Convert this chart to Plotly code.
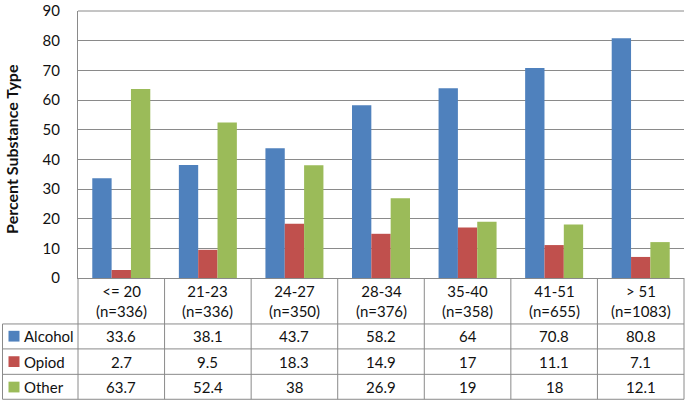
import plotly.graph_objects as go

# ---- data ----
age_groups = ["<= 20", "21-23", "24-27", "28-34", "35-40", "41-51", "> 51"]
group_n = [336, 336, 350, 376, 358, 655, 1083]
alcohol = [33.6, 38.1, 43.7, 58.2, 64, 70.8, 80.8]
opiod = [2.7, 9.5, 18.3, 14.9, 17, 11.1, 7.1]
other = [63.7, 52.4, 38, 26.9, 19, 18, 12.1]
series_names = ["Alcohol", "Opiod", "Other"]
y_max = 90
y_step = 10

# ---- style / layout ----
W, H = 685, 404
L, R, T, B = 78, 684, 5, 278
COLORS = ["#4F81BD", "#C0504D", "#9BBB59"]
GRID = "#8A8A8A"
FONT = "Lato"
TXT = "#111111"


def px_x(px):
    return (px - L) / (R - L)


def px_y(py):
    return (B - py) / (B - T)


series = [alcohol, opiod, other]
fig = go.Figure()
for name, vals, col in zip(series_names, series, COLORS):
    fig.add_trace(go.Bar(x=age_groups, y=vals, name=name,
                         marker=dict(color=col, line=dict(width=0))))

ncat = len(age_groups)
col_w = (R - L) / ncat

shapes = []
line = dict(color=GRID, width=1)
# top gridline at the range maximum (plotly drops grid lines on the plot edge)
shapes.append(dict(type="line", xref="paper", yref="paper", x0=0, x1=1,
                   y0=1, y1=1, line=line))
# table horizontal lines
row_lines = [325, 350.5, 376.5, 402]
for ry in row_lines:
    shapes.append(dict(type="line", xref="paper", yref="paper",
                       x0=px_x(2.5), x1=px_x(R), y0=px_y(ry), y1=px_y(ry), line=line))
# vertical lines of the table
for i in range(ncat + 1):
    xx = L + i * col_w
    shapes.append(dict(type="line", xref="paper", yref="paper",
                       x0=px_x(xx), x1=px_x(xx), y0=px_y(B), y1=px_y(402), line=line))
shapes.append(dict(type="line", xref="paper", yref="paper",
                   x0=px_x(2.5), x1=px_x(2.5), y0=px_y(325), y1=px_y(402), line=line))

annotations = []
# header cells
for i, (g, n) in enumerate(zip(age_groups, group_n)):
    annotations.append(dict(x=i, xref="x", y=px_y(301.5), yref="paper",
                            text=f"{g}<br>(n={n})", showarrow=False,
                            font=dict(family=FONT, size=15, color=TXT),
                            align="center", xanchor="center", yanchor="middle"))
row_centers = [337.5, 363.5, 389.5]
for r, (name, vals, col) in enumerate(zip(series_names, series, COLORS)):
    yc = px_y(row_centers[r])
    for i, v in enumerate(vals):
        annotations.append(dict(x=i, xref="x", y=yc, yref="paper",
                                text=f"{v:g}", showarrow=False,
                                font=dict(family=FONT, size=15, color=TXT),
                                xanchor="center", yanchor="middle"))
    # legend key
    shapes.append(dict(type="rect", xref="paper", yref="paper",
                       x0=px_x(8.5), x1=px_x(19.5),
                       y0=px_y(row_centers[r] + 5.5), y1=px_y(row_centers[r] - 5.5),
                       fillcolor=col, line=dict(width=0)))
    annotations.append(dict(x=px_x(22), xref="paper", y=yc, yref="paper",
                            text=name, showarrow=False,
                            font=dict(family=FONT, size=15, color=TXT),
                            xanchor="left", yanchor="middle"))

# y axis title
annotations.append(dict(x=px_x(12), xref="paper", y=px_y(146), yref="paper",
                        text="<b>Percent Substance Type</b>", textangle=-90,
                        showarrow=False, font=dict(family=FONT, size=16, color=TXT),
                        xanchor="center", yanchor="middle"))

fig.update_layout(
    width=W, height=H,
    margin=dict(l=L, r=W - R, t=T, b=H - B, pad=0),
    paper_bgcolor="white", plot_bgcolor="white",
    barmode="group", bargap=0.33, bargroupgap=0,
    showlegend=False,
    font=dict(family=FONT, size=15, color=TXT),
    shapes=shapes, annotations=annotations,
    xaxis=dict(showticklabels=False, showgrid=False, zeroline=False,
               showline=True, linecolor=GRID, linewidth=1, ticks=""),
    yaxis=dict(range=[0, y_max], tickmode="linear", tick0=0, dtick=y_step,
               showgrid=True, gridcolor=GRID,
               gridwidth=1, zeroline=False, showline=True, linecolor=GRID,
               linewidth=1, ticks="", ticklabelstandoff=14,
               ticklabeloverflow="allow",
               tickfont=dict(family=FONT, size=15, color=TXT)),
)

fig.write_html("out.html", config={"displayModeBar": False},
               post_script="document.body.style.margin='0';document.body.style.overflow='hidden';")
